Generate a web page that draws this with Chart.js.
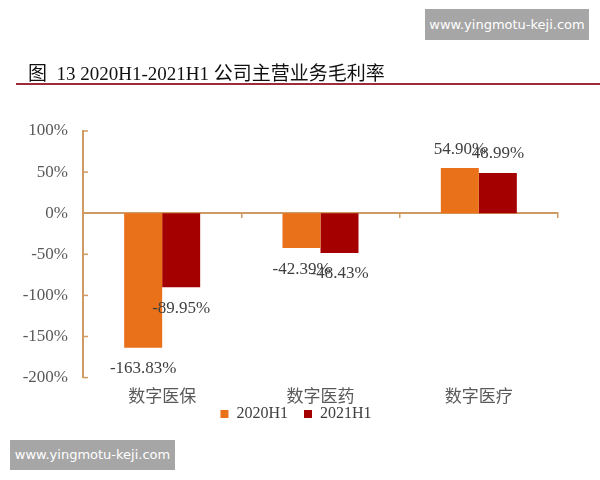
<!DOCTYPE html>
<html>
<head>
<meta charset="utf-8">
<script src="https://cdn.jsdelivr.net/npm/chart.js@4/dist/chart.umd.min.js"></script>
<style>
  html, body { margin: 0; padding: 0; background: #fff; }
  #page { position: relative; width: 600px; height: 480px; overflow: hidden; }
  #wrap { position: absolute; left: 0; top: 0; width: 600px; height: 480px; }
  .mark { position: absolute; background: #a6a6a6; color: #fff; font-family: "DejaVu Sans", sans-serif;
          font-size: 13px; line-height: 31px; text-align: center; }
  #title { position: absolute; left: 28px; top: 58px; font-size: 19px; color: #111;
           font-family: "Liberation Serif", "Noto Sans CJK SC", serif; white-space: nowrap; }
  #rule { position: absolute; left: 16px; top: 83px; width: 584px; height: 2px; background: #9e2b3a; }
</style>
</head>
<body>
<div id="page">
  <div id="wrap"><canvas id="chart1"></canvas></div>
  <div id="title">图&nbsp; 13 2020H1-2021H1 公司主营业务毛利率</div>
  <div id="rule"></div>
  <div class="mark" style="left:425px;top:9px;width:164px;height:31px;">www.yingmotu-keji.com</div>
  <div class="mark" style="left:10px;top:440px;width:165px;height:30px;line-height:30px;">www.yingmotu-keji.com</div>
</div>
<script>
// categories and values
const categories = ['数字医保', '数字医药', '数字医疗'];
const series2020 = [-163.83, -42.39, 54.90];
const series2021 = [-89.95, -48.43, 48.99];
const yTickValues = [100, 50, 0, -50, -100, -150, -200];

const axisColor = '#d09a64';
const serif = '"Liberation Serif", "Noto Sans CJK SC", serif';

// value labels outside the bar ends
const barLabels = {
  id: 'barLabels',
  afterDatasetsDraw(chart) {
    const ctx = chart.ctx;
    ctx.save();
    ctx.font = '17px ' + serif;
    ctx.fillStyle = '#404040';
    ctx.textAlign = 'center';
    ctx.textBaseline = 'middle';
    chart.data.datasets.forEach((ds, i) => {
      const meta = chart.getDatasetMeta(i);
      meta.data.forEach((bar, j) => {
        const v = ds.data[j];
        const y = v >= 0 ? bar.y - 19 : bar.y + 21;
        ctx.fillText(v.toFixed(2) + '%', bar.x, y);
      });
    });
    ctx.restore();
  }
};

// small tick marks on the inside of the value axis
const innerTicks = {
  id: 'innerTicks',
  afterDraw(chart) {
    const ctx = chart.ctx;
    const y = chart.scales.y;
    const left = chart.chartArea.left;
    ctx.save();
    ctx.strokeStyle = axisColor;
    ctx.lineWidth = 1.5;
    yTickValues.forEach(v => {
      const py = y.getPixelForValue(v);
      ctx.beginPath();
      ctx.moveTo(left, py);
      ctx.lineTo(left + 5, py);
      ctx.stroke();
    });
    ctx.restore();
  }
};

// nudge the legend a little right, as in the picture
const legendShift = {
  id: 'legendShift',
  afterLayout(chart) {
    chart.legend.left += 12;
    chart.legend.right += 12;
  }
};

const data = {
  labels: categories,
  datasets: [
    { label: '2020H1', data: series2020, backgroundColor: '#e8711a' },
    { label: '2021H1', data: series2021, backgroundColor: '#a50000' }
  ]
};

const config = {
  type: 'bar',
  data: data,
  options: {
    responsive: true,
    maintainAspectRatio: false,
    animation: false,
    devicePixelRatio: 1,
    categoryPercentage: 0.48,
    barPercentage: 1.0,
    layout: { padding: { top: 131, right: 42, bottom: 48, left: 10 } },
    plugins: {
      legend: {
        position: 'bottom',
        labels: {
          boxWidth: 8, boxHeight: 8, padding: 0,
          color: '#404040',
          font: { family: serif, size: 16 },
          generateLabels(chart) {
            const items = Chart.defaults.plugins.legend.labels.generateLabels(chart);
            items[0].text = items[0].text + '    ';
            return items;
          }
        }
      },
      tooltip: { enabled: false }
    },
    scales: {
      x: {
        grid: { display: false },
        border: { display: false },
        ticks: { color: '#595959', font: { family: '"Noto Sans CJK SC", sans-serif', size: 17 }, padding: 0 }
      },
      x2: {
        type: 'category',
        labels: categories,
        position: { y: 0 },
        offset: true,
        grid: { display: true, offset: true, drawOnChartArea: false, drawTicks: true, tickLength: 4, color: axisColor, lineWidth: 1.5 },
        border: { display: true, color: axisColor, width: 2 },
        ticks: { display: false }
      },
      y: {
        min: -200,
        max: 100,
        afterBuildTicks(scale) {
          scale.ticks = yTickValues.map(v => ({ value: v }));
        },
        afterFit(scale) { scale.width = 73; },
        grid: { display: false },
        border: { display: true, color: axisColor, width: 2 },
        ticks: {
          color: '#595959',
          padding: 7,
          font: { family: 'Liberation Serif', size: 17 },
          callback: v => v + '%'
        }
      }
    }
  },
  plugins: [barLabels, innerTicks, legendShift]
};

const myChart = new Chart(document.getElementById('chart1'), config);
</script>
</body>
</html>
